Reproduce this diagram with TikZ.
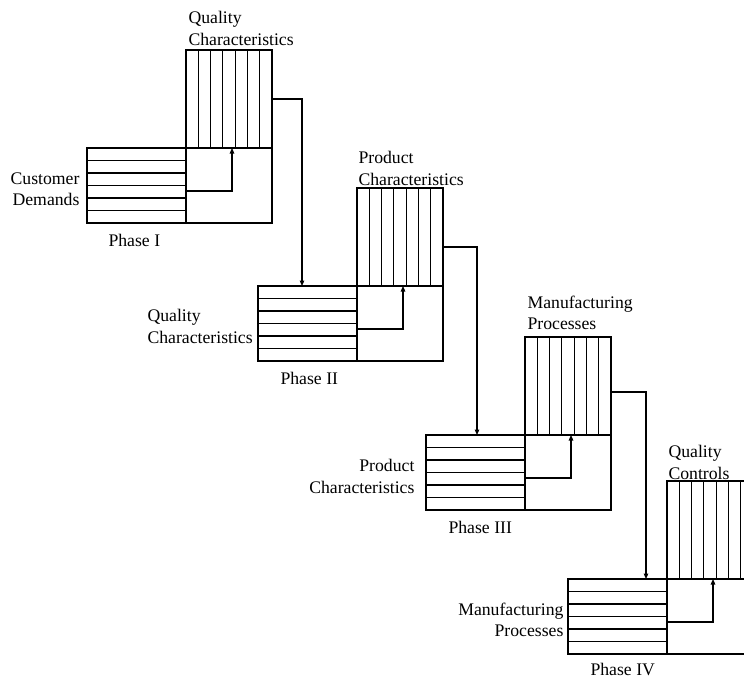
\documentclass[tikz,border=0pt]{standalone}
\usepackage{fontspec}
\setmainfont{Liberation Serif}
\usetikzlibrary{arrows.meta}
\newcommand\qfdphase[3]{%
  \node[rowsbox, anchor=north west] (r#1) at (#2,#3) {};
  \node[sqbox, anchor=north west] (s#1) at (r#1.north east) {};
  \node[colbox, anchor=south west] (c#1) at (s#1.north west) {};
  \foreach \k in {1,...,5}
    \draw ([yshift={-\k*12.5pt}]r#1.north west) -- ([yshift={-\k*12.5pt}]r#1.north east);
  \foreach \k in {1,...,6}
    \draw ([xshift={\k*12.2857pt}]c#1.south west) -- ([xshift={\k*12.2857pt}]c#1.north west);
  \coordinate (a#1) at ([yshift=-43pt]s#1.north west);
  \coordinate (b#1) at ([xshift=46pt]s#1.north west);
  \draw[tip] (a#1) -| (b#1);
}
\begin{document}
\begin{tikzpicture}[x=1pt,y=-1pt,line width=1.1pt,
  rowsbox/.style={draw, minimum width=99pt, minimum height=75pt, inner sep=0pt, outer sep=0pt},
  sqbox/.style={draw, minimum width=86pt, minimum height=75pt, inner sep=0pt, outer sep=0pt},
  colbox/.style={draw, minimum width=86pt, minimum height=98pt, inner sep=0pt, outer sep=0pt},
  tip/.style={-{Triangle[width=4.5pt,length=5.5pt]}},
  lbl/.style={inner sep=0pt, font=\fontsize{17.7}{21.5}\selectfont}]
\useasboundingbox (0,0) rectangle (744,682);
\clip (0,0) rectangle (744,682);
\fill[white] (0,0) rectangle (744,682);

\qfdphase{1}{87}{148}
\qfdphase{2}{258}{286}
\qfdphase{3}{426}{435}
\qfdphase{4}{568}{579}

% connectors between phases
\coordinate (t2) at ([xshift=44pt]r2.north west);
\coordinate (t3) at ([xshift=51pt]r3.north west);
\coordinate (t4) at ([xshift=78pt]r4.north west);
\draw[tip] (c1.east) -| (t2);
\draw[tip] ([yshift=-10pt]c2.east) -| (t3);
\draw[tip] ([yshift=-6pt]c3.east) -| (t4);

% labels
\node[lbl, align=left, anchor=north west] (l1t) at (188,11) {Quality\\Characteristics};
\node[lbl, align=right, anchor=north east] (l1l) at (80,172) {Customer\\Demands};
\node[lbl, anchor=north west] (p1) at (108,234) {Phase I};

\node[lbl, align=left, anchor=north west] (l2t) at (358,151) {Product\\Characteristics};
\node[lbl, align=left, anchor=north west] (l2l) at (147,309) {Quality\\Characteristics};
\node[lbl, anchor=north west] (p2) at (280,372) {Phase II};

\node[lbl, align=left, anchor=north west] (l3t) at (527,295) {Manufacturing\\Processes};
\node[lbl, align=right, anchor=north east] (l3l) at (415,459) {Product\\Characteristics};
\node[lbl, anchor=north west] (p3) at (448,521) {Phase III};

\node[lbl, align=left, anchor=north west] (l4t) at (668,445) {Quality\\Controls};
\node[lbl, align=right, anchor=north east] (l4l) at (564,602) {Manufacturing\\Processes};
\node[lbl, anchor=north west] (p4) at (590,663) {Phase IV};
\end{tikzpicture}
\end{document}
